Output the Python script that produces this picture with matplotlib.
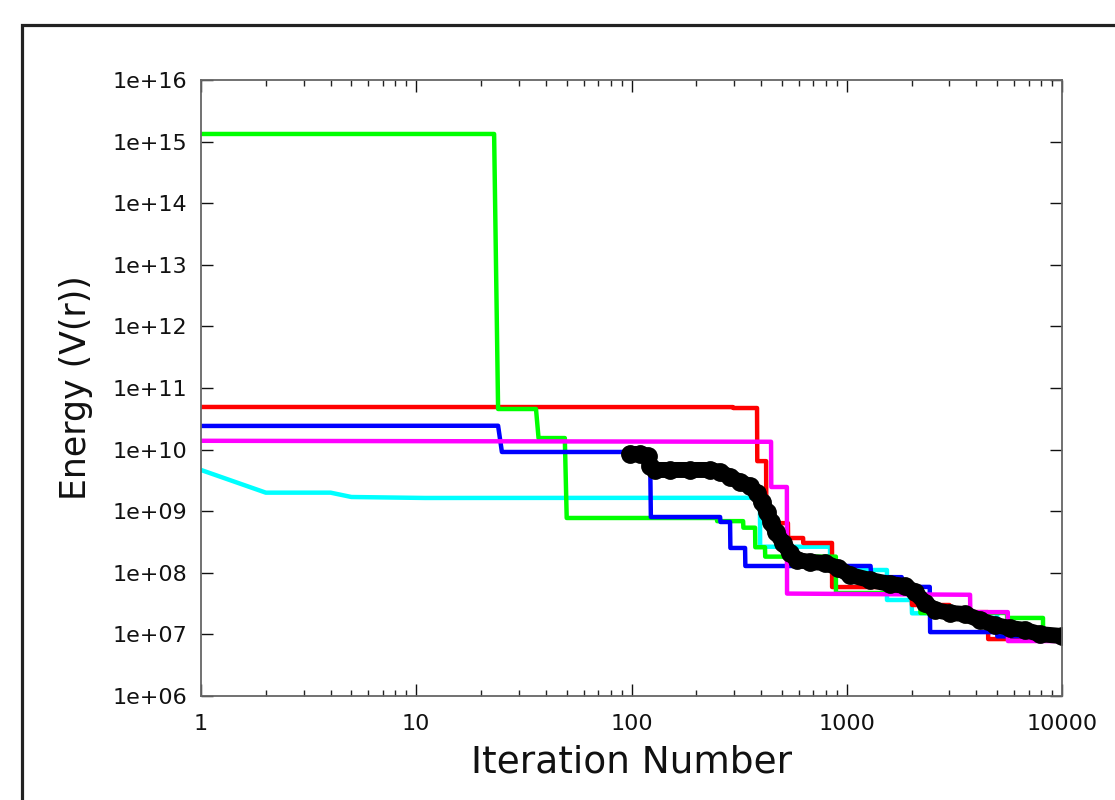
import numpy as np
import matplotlib

matplotlib.use("Agg")
import matplotlib.pyplot as plt
from matplotlib.patches import Rectangle
from matplotlib.ticker import FixedLocator, FuncFormatter, NullLocator, LogLocator

# --- data (iteration, energy) ---
red_x = [1, 296, 297, 383, 384, 422, 423, 533, 534, 627, 628, 854, 855, 2000, 2010, 3000, 3010, 4530, 4540, 10000]
red_y = [4.92e10, 4.9e10, 4.73e10, 4.73e10, 6.5e9, 6.5e9, 6.4e8, 6.4e8, 3.67e8, 3.67e8, 3.05e8, 3.05e8,
         5.87e7, 5.87e7, 3.0e7, 3.0e7, 2.3e7, 2.3e7, 8.4e6, 8.4e6]

green_x = [1, 23, 24, 36, 37, 49, 50, 249, 250, 330, 331, 375, 376, 417, 418, 890, 891, 2190, 2200,
           5550, 5560, 8160, 8170, 10000]
green_y = [1.33e15, 1.33e15, 4.56e10, 4.56e10, 1.54e10, 1.54e10, 7.76e8, 7.76e8, 6.9e8, 6.9e8, 5.4e8,
           5.4e8, 2.6e8, 2.6e8, 1.83e8, 1.83e8, 4.7e7, 4.7e7, 2.23e7, 2.23e7, 1.85e7, 1.85e7, 9.1e6, 9.1e6]

blue_x = [1, 24, 25, 122, 123, 258, 259, 287, 288, 337, 338, 1290, 1300, 1800, 1810, 2430, 2440,
          5000, 5010, 10000]
blue_y = [2.42e10, 2.44e10, 9.15e9, 9.15e9, 8.05e8, 8.05e8, 6.68e8, 6.68e8, 2.53e8, 2.53e8, 1.29e8,
          1.29e8, 8.5e7, 8.5e7, 5.9e7, 5.9e7, 1.09e7, 1.09e7, 9.3e6, 9.3e6]

magenta_x = [1, 445, 446, 527, 528, 3740, 3750, 5600, 5610, 10000]
magenta_y = [1.39e10, 1.34e10, 2.47e9, 2.47e9, 4.6e7, 4.4e7, 2.3e7, 2.3e7, 7.8e6, 7.8e6]

cyan_x = [1, 2, 4, 5, 11, 363, 395, 396, 836, 837, 1537, 1538, 2000, 2010, 5000, 5010, 10000]
cyan_y = [4.67e9, 2.0e9, 2.0e9, 1.70e9, 1.64e9, 1.65e9, 1.65e9, 2.65e8, 2.65e8, 1.11e8, 1.11e8,
          3.62e7, 3.62e7, 2.2e7, 2.2e7, 9.2e6, 9.2e6]

black_x = [98, 110, 119, 122, 129, 151, 187, 232, 258, 287, 319, 355, 383, 404, 426, 445, 469, 506,
           545, 588, 675, 793, 911, 1035, 1282, 1588, 1865, 2076, 2311, 2572, 3018, 3543, 4159, 4883,
           5732, 6729, 7900, 10000]
black_y = [8.49e9, 8.49e9, 7.87e9, 5.42e9, 4.67e9, 4.67e9, 4.67e9, 4.67e9, 4.33e9, 3.59e9, 2.98e9,
           2.56e9, 1.97e9, 1.41e9, 9.7e8, 6.68e8, 4.59e8, 3.05e8, 2.1e8, 1.61e8, 1.5e8, 1.44e8, 1.2e8,
           9.2e7, 7.64e7, 6.58e7, 6.11e7, 4.88e7, 3.23e7, 2.49e7, 2.23e7, 2.14e7, 1.71e7, 1.42e7,
           1.27e7, 1.18e7, 1.01e7, 9.4e6]

x_ticks = [1, 10, 100, 1000, 10000]
y_ticks = [1e6, 1e7, 1e8, 1e9, 1e10, 1e11, 1e12, 1e13, 1e14, 1e15, 1e16]


def add_frame(fig):
    # dark border that runs off the right/bottom edge of the image
    fig.patches.append(
        Rectangle(
            (22 / 1115, -0.2), 1.2, 0.2 + (1 - 25 / 800),
            transform=fig.transFigure, fill=False, lw=2.3, ec="#222222", clip_on=False,
        )
    )


def style_axes(ax):
    ax.set_xscale("log")
    ax.set_yscale("log")
    ax.set_xlim(1, 10000)
    ax.set_ylim(1e6, 1e16)

    ax.xaxis.set_major_locator(FixedLocator(x_ticks))
    ax.xaxis.set_minor_locator(LogLocator(base=10, subs=np.arange(2, 10)))
    ax.xaxis.set_major_formatter(FuncFormatter(lambda v, p: f"{int(round(v))}"))
    ax.xaxis.set_minor_formatter(FuncFormatter(lambda v, p: ""))

    ax.yaxis.set_major_locator(FixedLocator(y_ticks))
    ax.yaxis.set_minor_locator(NullLocator())
    ax.yaxis.set_major_formatter(
        FuncFormatter(lambda v, p: f"1e+{int(round(np.log10(v))):02d}")
    )

    ax.tick_params(which="both", direction="in", top=True, right=True, color="#222222")
    ax.tick_params(which="major", length=8.5, width=1.0, labelsize=16, colors="#111111")
    ax.tick_params(axis="x", which="major", pad=13)
    ax.tick_params(axis="y", which="major", pad=10)
    ax.tick_params(which="minor", length=4.5, width=1.0)

    for s in ax.spines.values():
        s.set_color("#666666")
        s.set_linewidth(1.3)

    ax.set_xlabel("Iteration Number", fontsize=27, color="#111111")
    ax.set_ylabel("Energy (V(r))", fontsize=25, color="#111111")
    ax.xaxis.set_label_coords(0.5, -0.078)
    ax.yaxis.set_label_coords(-0.1254, 0.5)


fig = plt.figure(figsize=(11.15, 8.0), dpi=100, facecolor="white")
ax = fig.add_axes([201 / 1115, 1 - 696 / 800, 861 / 1115, 616 / 800])

lw = 3.2
ax.plot(cyan_x, cyan_y, color="#00FFFF", lw=lw)
ax.plot(red_x, red_y, color="#FF0000", lw=lw)
ax.plot(green_x, green_y, color="#00FF00", lw=lw)
ax.plot(blue_x, blue_y, color="#0000FF", lw=lw)
ax.plot(magenta_x, magenta_y, color="#FF00FF", lw=lw)
ax.plot(black_x, black_y, color="black", lw=11.5, marker="o", markersize=12.5,
        solid_capstyle="round", solid_joinstyle="round")

style_axes(ax)
add_frame(fig)

fig.savefig("out.png", dpi=100, facecolor="white")
